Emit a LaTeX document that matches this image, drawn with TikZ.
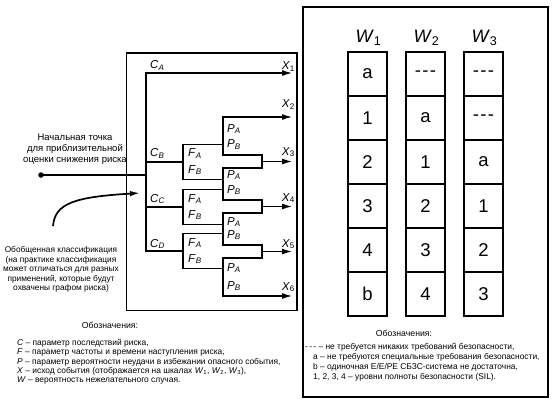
\documentclass[tikz,border=0pt]{standalone}
\usepackage{fontspec}
\setmainfont{Liberation Sans}
\usetikzlibrary{arrows.meta}
\newcommand{\vsub}[2]{\textit{#1}\textsubscript{\textit{#2}}}
\newcommand{\nsub}[2]{\textit{#1}\textsubscript{#2}}
\newcommand{\tdash}{\hbox{-}\kern1.3pt\hbox{-}\kern1.3pt\hbox{-}}
\begin{document}
\begin{tikzpicture}[x=1pt,y=-1pt,
  tree/.style={line width=1.9pt},
  tip/.tip={Latex[length=11pt,width=6pt]},
  arr/.style={line width=1.9pt,-tip},
  frame/.style={line width=1.7pt},
  cell/.style={draw,line width=1.5pt,minimum width=39pt,minimum height=44pt,inner sep=0pt,font=\fontsize{18.5}{18.5}\selectfont},
  lbl/.style={inner sep=0pt,font=\fontsize{11.5}{11.5}\selectfont,anchor=base west},
  xlbl/.style={inner sep=0pt,font=\fontsize{11.5}{11.5}\selectfont,anchor=base east},
  wlbl/.style={inner sep=0pt,font=\fontsize{18}{18}\selectfont,anchor=base},
  leg/.style={inner sep=0pt,font=\fontsize{8.4}{9.3}\selectfont,anchor=base west},
  legtitle/.style={inner sep=0pt,font=\fontsize{8.7}{9}\selectfont,anchor=base},
  note/.style={inner sep=0pt,align=center}
]
\useasboundingbox (0,0) rectangle (554,401);
\fill[white] (0,0) rectangle (554,401);

% frames
\draw[frame] (126.5,53) rectangle (297,310.5);
\draw[frame] (303,7) rectangle (548,397);

% ---------- risk graph ----------
\coordinate (cA) at (146,73);
\coordinate (x1) at (293,73);
\coordinate (cB) at (146,162);
\coordinate (cC) at (146,207);
\coordinate (cD) at (146,251);
\coordinate (fB) at (183,162);
\coordinate (fC) at (183,207);
\coordinate (fD) at (183,251);
\draw[arr] (fD) -- (cD) -- (cA) -- (x1);
\draw[tree] (cB) -- (fB);
\draw[tree] (cC) -- (fC);

% F blocks
\coordinate (fBa) at (183,144.5); \coordinate (fBb) at (183,179.5);
\coordinate (fCa) at (183,189.5); \coordinate (fCb) at (183,224.5);
\coordinate (fDa) at (183,233.5); \coordinate (fDb) at (183,268.5);
\coordinate (pBa) at (223,144.5); \coordinate (pBb) at (223,179.5);
\coordinate (pCa) at (223,189.5); \coordinate (pCb) at (223,224.5);
\coordinate (pDa) at (223,233.5); \coordinate (pDb) at (223,268.5);
\draw[tree] (pBa) -- (fBa) -- (fBb) -- (pBb);
\draw[tree] (pCa) -- (fCa) -- (fCb) -- (pCb);
\draw[tree] (pDa) -- (fDa) -- (fDb) -- (pDb);

% P blocks
\coordinate (x2) at (293,117);
\coordinate (p1t) at (223,117); \coordinate (p1b) at (223,155);
\coordinate (k1t) at (262,155); \coordinate (k1b) at (262,168);
\coordinate (p2t) at (223,168); \coordinate (p2b) at (223,200);
\coordinate (k2t) at (262,200); \coordinate (k2b) at (262,213);
\coordinate (p3t) at (223,213); \coordinate (p3b) at (223,245);
\coordinate (k3t) at (262,245); \coordinate (k3b) at (262,258);
\coordinate (p4t) at (223,258); \coordinate (p4b) at (223,296);
\coordinate (x6) at (293,296);
\draw[tree,tip-tip] (x2) -- (p1t) -- (p1b) -- (k1t) -- (k1b) -- (p2t) -- (p2b)
  -- (k2t) -- (k2b) -- (p3t) -- (p3b) -- (k3t) -- (k3b) -- (p4t) -- (p4b) -- (x6);

\coordinate (k1) at (262,161.5); \coordinate (x3) at (293,161.5);
\coordinate (k2) at (262,206.5); \coordinate (x4) at (293,206.5);
\coordinate (k3) at (262,251.5); \coordinate (x5) at (293,251.5);
\draw[arr] (k1) -- (x3);
\draw[arr] (k2) -- (x4);
\draw[arr] (k3) -- (x5);

% labels
\node[lbl] (lCA) at (150,69) {\vsub{C}{A}};
\node[lbl] (lCB) at (150,157) {\vsub{C}{B}};
\node[lbl] (lCC) at (150,202) {\vsub{C}{C}};
\node[lbl] (lCD) at (150,247) {\vsub{C}{D}};

\node[lbl] (lFBa) at (188,157) {\vsub{F}{A}};
\node[lbl] (lFBb) at (188,173) {\vsub{F}{B}};
\node[lbl] (lFCa) at (188,202) {\vsub{F}{A}};
\node[lbl] (lFCb) at (188,218) {\vsub{F}{B}};
\node[lbl] (lFDa) at (188,246) {\vsub{F}{A}};
\node[lbl] (lFDb) at (188,262) {\vsub{F}{B}};

\node[lbl] (lP1a) at (227,132) {\vsub{P}{A}};
\node[lbl] (lP1b) at (227,148) {\vsub{P}{B}};
\node[lbl] (lP2a) at (227,178) {\vsub{P}{A}};
\node[lbl] (lP2b) at (227,193) {\vsub{P}{B}};
\node[lbl] (lP3a) at (227,225) {\vsub{P}{A}};
\node[lbl] (lP3b) at (227,238) {\vsub{P}{B}};
\node[lbl] (lP4a) at (227,271) {\vsub{P}{A}};
\node[lbl] (lP4b) at (227,289) {\vsub{P}{B}};

\node[xlbl] (lX1) at (295,70) {\nsub{X}{1}};
\node[xlbl] (lX2) at (295,108) {\nsub{X}{2}};
\node[xlbl] (lX3) at (295,155) {\nsub{X}{3}};
\node[xlbl] (lX4) at (295,201) {\nsub{X}{4}};
\node[xlbl] (lX5) at (295,247) {\nsub{X}{5}};
\node[xlbl] (lX6) at (295,290) {\nsub{X}{6}};

% start point
\node[circle,fill=black,inner sep=0pt,minimum size=5.5pt] (s0) at (41,175) {};
\coordinate (s1) at (146,175);
\draw[line width=1.3pt] (s0.center) -- (s1);
\node[note,font=\fontsize{9.5}{11}\selectfont] (start) at (75,149.5)
  {Начальная точка\\для приблизительной\\оценки снижения риска};

% generalised classification
\coordinate (g0) at (53,226);
\coordinate (g1) at (140,193);
\draw[line width=1.7pt,-{Latex[length=10pt,width=5.5pt]}] (g0) .. controls (55,203) and (75,197) .. (g1);
\node[note,font=\fontsize{8.3}{9.5}\selectfont] (gen) at (61,269.5)
  {Обобщенная классификация\\(на практике классификация\\может отличаться для разных\\применений, которые будут\\охвачены графом риска)};

% ---------- W tables ----------
\node[wlbl] (W1) at (368.5,43) {\nsub{W}{1}};
\node[wlbl] (W2) at (426.5,43) {\nsub{W}{2}};
\node[wlbl] (W3) at (484.5,43) {\nsub{W}{3}};

\node[cell] (a1) at (367.5,74) {a};
\node[cell] (a2) at (367.5,118) {1};
\node[cell] (a3) at (367.5,162) {2};
\node[cell] (a4) at (367.5,206) {3};
\node[cell] (a5) at (367.5,250) {4};
\node[cell] (a6) at (367.5,294) {b};

\node[cell] (b1) at (425.5,74) {\tdash};
\node[cell] (b2) at (425.5,118) {a};
\node[cell] (b3) at (425.5,162) {1};
\node[cell] (b4) at (425.5,206) {2};
\node[cell] (b5) at (425.5,250) {3};
\node[cell] (b6) at (425.5,294) {4};

\node[cell] (c1) at (483.5,74) {\tdash};
\node[cell] (c2) at (483.5,118) {\tdash};
\node[cell] (c3) at (483.5,162) {a};
\node[cell] (c4) at (483.5,206) {1};
\node[cell] (c5) at (483.5,250) {2};
\node[cell] (c6) at (483.5,294) {3};

% ---------- legends ----------
\node[legtitle] (lt) at (110,328) {Обозначения:};
\node[leg] (l1) at (17,345.5) {\textit{C} – параметр последствий риска,};
\node[leg] (l2) at (17,354.8) {\textit{F} – параметр частоты и времени наступления риска,};
\node[leg] (l3) at (17,364.1) {\textit{P} – параметр вероятности неудачи в избежании опасного события,};
\node[leg] (l4) at (17,373.4) {\textit{X} – исход события (отображается на шкалах \nsub{W}{1}, \nsub{W}{2}, \nsub{W}{3}),};
\node[leg] (l5) at (17,382.7) {\textit{W} – вероятность нежелательного случая.};

\node[legtitle] (rt) at (404,336) {Обозначения:};
\node[leg] (r1) at (305,349) {\tdash{} – не требуется никаких требований безопасности,};
\node[leg] (r2) at (313,359) {a – не требуются специальные требования безопасности,};
\node[leg] (r3) at (313,369) {b – одиночная E/E/PE СБЗС-система не достаточна,};
\node[leg] (r4) at (313,379) {1, 2, 3, 4 – уровни полноты безопасности (SIL).};
\end{tikzpicture}
\end{document}
